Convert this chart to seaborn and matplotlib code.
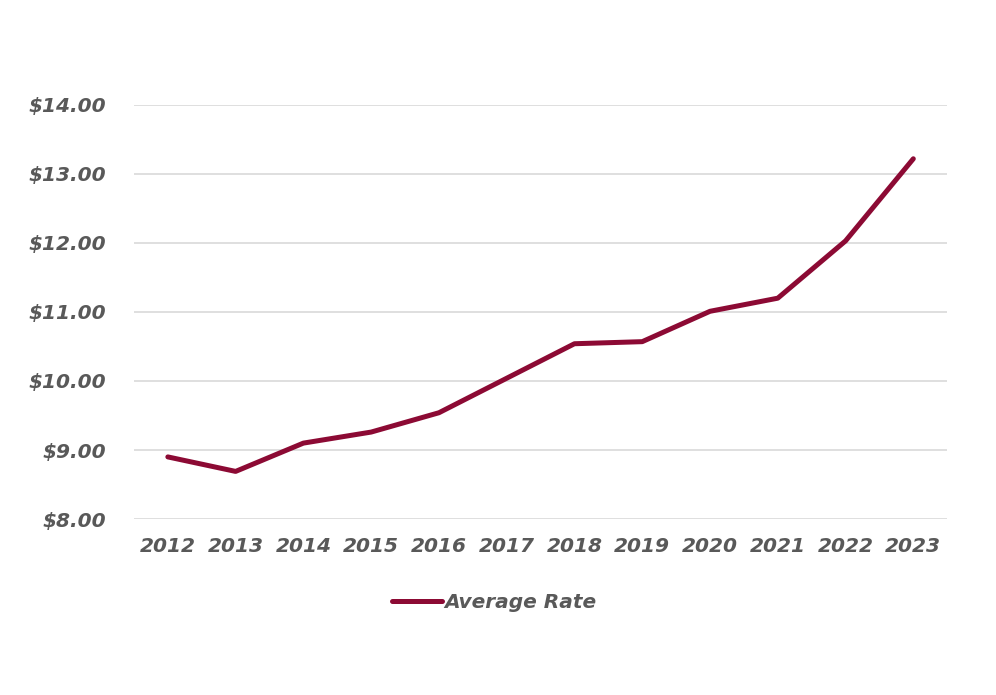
import matplotlib
matplotlib.use('Agg')
import matplotlib.pyplot as plt
import seaborn as sns
import pandas as pd

years = ['2012', '2013', '2014', '2015', '2016', '2017',
         '2018', '2019', '2020', '2021', '2022', '2023']
avg_rate = [8.90, 8.69, 9.10, 9.26, 9.54, 10.04,
            10.54, 10.57, 11.01, 11.20, 12.03, 13.22]
y_ticks = [8, 9, 10, 11, 12, 13, 14]

df = pd.DataFrame({'year': years, 'rate': avg_rate})

sns.set_style('white')
plt.rcParams['font.family'] = ['DejaVu Sans']

line_color = '#8C0A34'
text_color = '#595959'

fig = plt.figure(figsize=(9.96, 6.95), dpi=100)
ax = fig.add_axes([0.1345, 0.2532, 0.8165, 0.5958])

sns.lineplot(data=df, x='year', y='rate', color=line_color,
             linewidth=3.6, label='Average Rate', ax=ax, sort=False)

ax.set_xlim(-0.5, len(years) - 0.5)
ax.set_ylim(8, 14)
ax.set_yticks(y_ticks)
ax.set_yticklabels([f'${v:.2f}' for v in y_ticks])
ax.grid(axis='y', color='#D9D9D9', linewidth=1.2)
ax.set_axisbelow(True)
ax.set_xlabel('')
ax.set_ylabel('')
for s in ax.spines.values():
    s.set_visible(False)
ax.tick_params(axis='both', length=0, labelsize=14.5, labelcolor=text_color)
ax.tick_params(axis='y', pad=20)
ax.tick_params(axis='x', pad=13)
for lab in ax.get_xticklabels() + ax.get_yticklabels():
    lab.set_fontweight('bold')
    lab.set_fontstyle('italic')

leg = ax.legend(loc='upper center', bbox_to_anchor=(0.443, -0.135), frameon=False,
                handlelength=2.5, handletextpad=0.1,
                prop={'size': 14.5, 'weight': 'bold', 'style': 'italic'})
for t in leg.get_texts():
    t.set_color(text_color)

fig.savefig('out.png', dpi=100)
